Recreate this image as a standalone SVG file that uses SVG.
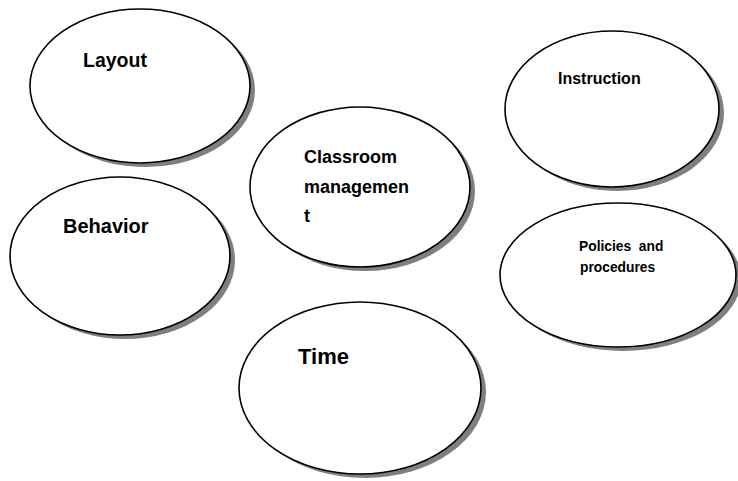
<svg xmlns="http://www.w3.org/2000/svg" width="738" height="481" viewBox="0 0 738 481">
  <defs>
    <style>
      .shadow { fill: #7f7f7f; stroke: none; }
      .bubble { fill: #ffffff; stroke: #000000; stroke-width: 1.6; }
      .label { font-family: "Liberation Sans", Arial, sans-serif; font-weight: bold; fill: #000000; }
    </style>
  </defs>
  <rect width="738" height="481" fill="#ffffff"/>

  <g id="layout">
    <ellipse class="shadow" cx="145" cy="90" rx="110" ry="77"/>
    <ellipse class="bubble" cx="140" cy="86" rx="110" ry="77"/>
    <text class="label" x="83" y="67" font-size="19.5">Layout</text>
  </g>

  <g id="instruction">
    <ellipse class="shadow" cx="617" cy="113" rx="107" ry="78"/>
    <ellipse class="bubble" cx="612" cy="109" rx="107" ry="78"/>
    <text class="label" x="558" y="84" font-size="16">Instruction</text>
  </g>

  <g id="classroom-management">
    <ellipse class="shadow" cx="365" cy="191" rx="110" ry="80"/>
    <ellipse class="bubble" cx="360" cy="187" rx="110" ry="80"/>
    <text class="label" font-size="18">
      <tspan x="304" y="163">Classroom</tspan>
      <tspan x="304" y="193">managemen</tspan>
      <tspan x="304" y="222">t</tspan>
    </text>
  </g>

  <g id="behavior">
    <ellipse class="shadow" cx="125" cy="260" rx="110" ry="79"/>
    <ellipse class="bubble" cx="120" cy="256" rx="110" ry="79"/>
    <text class="label" x="63" y="233" font-size="20">Behavior</text>
  </g>

  <g id="policies-and-procedures">
    <ellipse class="shadow" cx="623" cy="279" rx="118" ry="72"/>
    <ellipse class="bubble" cx="618" cy="275" rx="118" ry="72"/>
    <text class="label" font-size="13.8" xml:space="preserve"><tspan x="579" y="251">Policies  and</tspan><tspan x="580" y="272">procedures</tspan></text>
  </g>

  <g id="time">
    <ellipse class="shadow" cx="365" cy="392" rx="121" ry="86"/>
    <ellipse class="bubble" cx="360" cy="388" rx="121" ry="86"/>
    <text class="label" x="298" y="364" font-size="22">Time</text>
  </g>

  <g id="connectors"></g>
</svg>
